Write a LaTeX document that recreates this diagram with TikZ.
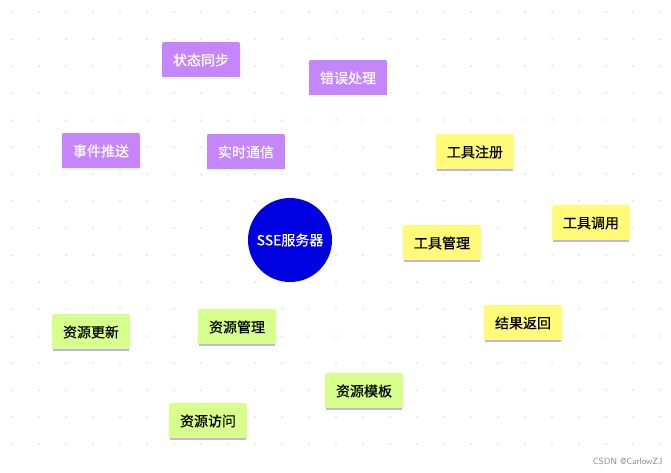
\documentclass[tikz,border=0pt]{standalone}
\usepackage{fontspec}
\usetikzlibrary{backgrounds}
\newfontfamily\cjk{Noto Sans CJK SC}[FakeBold=0.6]
\definecolor{ssepurple}{HTML}{C586FC}
\definecolor{sseyellow}{HTML}{FFFA78}
\definecolor{ssegreen}{HTML}{D6FF8C}
\definecolor{ssemint}{HTML}{DDFFC8}
\definecolor{sselav}{HTML}{C0B4EC}
\definecolor{sseblue}{HTML}{0000E0}
\begin{document}
\begin{tikzpicture}[x=1pt, y=-1pt, font=\cjk\fontsize{14}{16}\selectfont]

% Styles for boxes and branches
\tikzset{
  topic/.style={rectangle, rounded corners=2pt, minimum height=36pt, inner xsep=11pt},
  purpbox/.style={topic, fill=ssepurple, text=white},
  yelbox/.style={topic, fill=sseyellow, text=black},
  grnbox/.style={topic, fill=ssegreen, text=black},
  mainline/.style={line width=13pt},
  subline/.style={line width=10pt}
}

\useasboundingbox (0,0) rectangle (671,472);
% background grid of dots
\fill[white] (0,0) rectangle (671,472);
\foreach \gx in {0,...,24} \foreach \gy in {0,...,16}
  \fill[black!12] (12+27*\gx, 12+27*\gy) circle (1pt);

\node[circle, fill=sseblue, text=white, minimum size=84pt, inner sep=0pt] (sse) at (290,240) {SSE服务器};

% boxes with their underline
\foreach \n/\x/\y/\t/\s/\u in {rt/246/152/实时通信/purpbox/ssemint, sync/201/60/状态同步/purpbox/ssemint,
    err/348/78/错误处理/purpbox/ssemint, push/101/151/事件推送/purpbox/ssemint,
    tool/442/243/工具管理/yelbox/sselav, reg/475/152/工具注册/yelbox/sselav,
    call/591/223/工具调用/yelbox/sselav, ret/523/323/结果返回/yelbox/sselav,
    res/237/327/资源管理/grnbox/sselav, upd/91/332/资源更新/grnbox/sselav,
    acc/208/421/资源访问/grnbox/sselav, tpl/364/391/资源模板/grnbox/sselav} {
  \node[\s] (\n) at (\x,\y) {\t};
  \draw[\u, line width=2.5pt] ([xshift=1pt]\n.south west) -- ([xshift=-1pt]\n.south east);
}

% branches, behind the boxes
\begin{scope}[on background layer]
\draw[mainline, ssepurple] (sse.center) -- (rt.center);
\draw[mainline, sseyellow] (sse.center) -- (tool.center);
\draw[mainline, ssegreen] (sse.center) -- (res.center);
\foreach \a/\b in {rt/sync, rt/err, rt/push}
  \draw[subline, ssepurple] (\a.center) -- (\b.center);
\foreach \a/\b in {tool/reg, tool/call, tool/ret}
  \draw[subline, sseyellow] (\a.center) -- (\b.center);
\foreach \a/\b in {res/upd, res/acc, res/tpl}
  \draw[subline, ssegreen] (\a.center) -- (\b.center);
\end{scope}

\node[text=black!45, font=\sffamily\fontsize{9}{10}\selectfont, anchor=south east] (mark) at (666,468) {CSDN @CarlowZJ};
\end{tikzpicture}
\end{document}
